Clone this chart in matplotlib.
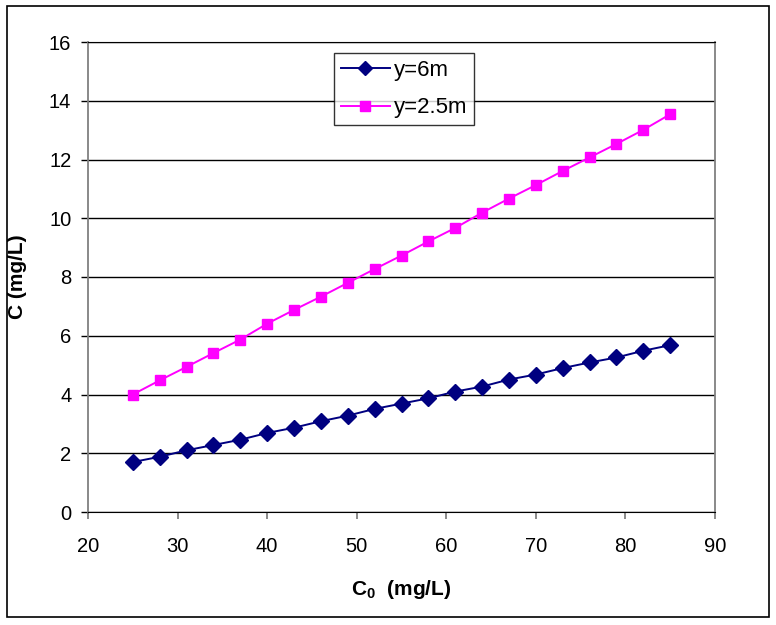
import matplotlib
matplotlib.use("Agg")
import matplotlib.pyplot as plt
from matplotlib.patches import Rectangle

plt.rcParams['font.family'] = ['Liberation Sans', 'DejaVu Sans']
plt.rcParams['mathtext.fontset'] = 'custom'
plt.rcParams['mathtext.rm'] = 'Liberation Sans:bold'
plt.rcParams['mathtext.bf'] = 'Liberation Sans:bold'

c0 = [25, 28, 31, 34, 37, 40, 43, 46, 49, 52, 55, 58, 61, 64, 67, 70, 73, 76, 79, 82, 85]
c_y6 = [1.70, 1.88, 2.10, 2.28, 2.46, 2.69, 2.87, 3.09, 3.28, 3.51, 3.69, 3.87,
        4.10, 4.27, 4.51, 4.68, 4.90, 5.09, 5.26, 5.49, 5.68]
c_y25 = [4.00, 4.48, 4.94, 5.41, 5.87, 6.41, 6.88, 7.33, 7.80, 8.27, 8.73, 9.21,
         9.67, 10.19, 10.67, 11.13, 11.61, 12.07, 12.53, 13.01, 13.54]
x_ticks = [20, 30, 40, 50, 60, 70, 80, 90]
y_ticks = [0, 2, 4, 6, 8, 10, 12, 14, 16]

W, H = 776, 625
fig = plt.figure(figsize=(W / 100, H / 100), dpi=100)
ax = fig.add_axes([88 / W, 1 - 512 / H, (715 - 88) / W, (512 - 42) / H])

# outer chart border
fig.patches.append(Rectangle((7 / W, 1 - 617 / H), (769 - 7) / W, (617 - 6) / H,
                             transform=fig.transFigure, fill=False,
                             edgecolor='black', linewidth=1.2))

ax.plot(c0, c_y6, color='#000080', marker='D', markersize=8, linewidth=1.4,
        label='y=6m', zorder=3)
ax.plot(c0, c_y25, color='#FF00FF', marker='s', markersize=7.5, linewidth=1.4,
        label='y=2.5m', zorder=3)

ax.set_xlim(20, 90)
ax.set_ylim(0, 16)
ax.set_xticks(x_ticks)
ax.set_yticks(y_ticks)
ax.grid(axis='y', color='black', linewidth=1.0)
ax.set_axisbelow(True)

for s in ['left', 'right']:
    ax.spines[s].set_color('#808080')
    ax.spines[s].set_linewidth(1.3)
ax.spines['bottom'].set_color('black')
ax.spines['top'].set_color('black')
ax.tick_params(axis='x', direction='out', length=5, width=1.3, color='#808080',
               labelsize=14.5, pad=13)
ax.tick_params(axis='y', direction='out', length=5, width=1, color='black',
               labelsize=14.5, pad=7)

ax.set_xlabel(r'C$_{0}$  (mg/L)', fontsize=15, fontweight='bold', labelpad=16)
ax.set_ylabel('C (mg/L)', fontsize=15, fontweight='bold', labelpad=14)
ax.yaxis.set_label_coords((27 - 88) / (715 - 88), (512 - 277) / 470)

leg = ax.legend(loc='upper left', bbox_to_anchor=((334 - 88) / (715 - 88), 1 - (53 - 42) / 470),
                frameon=True, fancybox=False, edgecolor='black', fontsize=16,
                handlelength=2.2, handletextpad=0.2, borderpad=0.3, labelspacing=0.75,
                borderaxespad=0, markerscale=0.95)
leg.get_frame().set_linewidth(1.0)

fig.savefig('out.png', dpi=100, facecolor='white')
